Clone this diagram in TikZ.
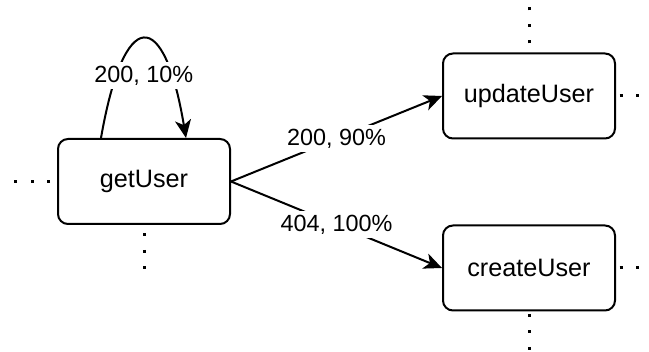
\documentclass[tikz,border=0pt]{standalone}
\usepackage{fontspec}
\setmainfont{Liberation Sans}
\usetikzlibrary{arrows.meta}
\begin{document}
\begin{tikzpicture}[x=1pt,y=-1pt,
  opbox/.style={draw=black,line width=2pt,rounded corners=10pt,minimum width=172pt,minimum height=85pt,inner sep=0pt,font=\fontsize{25.2pt}{30pt}\selectfont},
  flow/.style={line width=2pt,-{Stealth[length=18pt,width=16pt,inset=5pt]}},
  elabel/.style={fill=white,inner sep=1pt,minimum height=27pt,font=\fontsize{23.4pt}{28pt}\selectfont},
  dotline/.style={line width=3pt,line cap=butt,dash pattern=on 3pt off 13.5pt}]
\useasboundingbox (0,0) rectangle (649,352);
\node[opbox] (g) at (144,181.5) {getUser};
\node[opbox] (u) at (529,96) {updateUser};
\node[opbox] (c) at (529,268) {createUser};
\coordinate (gl) at (10,181.5);
\coordinate (gd) at (144,270);
\coordinate (uu) at (529,6);
\coordinate (ur) at (660,96);
\coordinate (cr) at (660,268);
\coordinate (cd) at (529,360);
\draw[dotline,dash phase=9.5] (g.west) -- (gl);
\draw[dotline,dash phase=8] (g.south) -- (gd);
\draw[dotline,dash phase=7.5] (u.north) -- (uu);
\draw[dotline,dash phase=13] (u.east) -- (ur);
\draw[dotline,dash phase=13] (c.east) -- (cr);
\draw[dotline,dash phase=14] (c.south) -- (cd);
\draw[flow] ([xshift=-43pt]g.north) .. controls (124,6) and (164,6) .. ([xshift=42pt]g.north)
  node[elabel,pos=0.5,yshift=-37pt] {200, 10\%};
\draw[flow] (g.east) -- (u.west) node[elabel,pos=0.5] {200, 90\%};
\draw[flow] (g.east) -- (c.west) node[elabel,pos=0.5] {404, 100\%};
\end{tikzpicture}
\end{document}
